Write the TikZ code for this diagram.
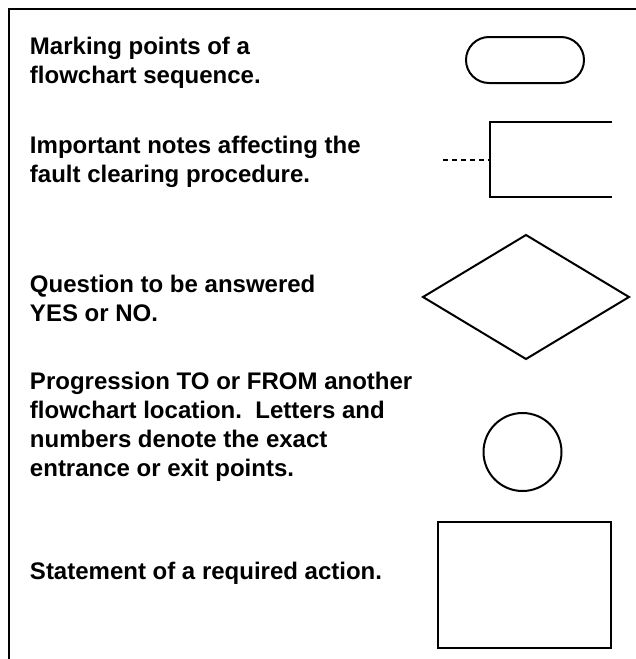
\documentclass[tikz,border=0pt]{standalone}
\usepackage{fontspec}
\setmainfont{Liberation Sans}
\begin{document}
\begin{tikzpicture}[x=1pt,y=-1pt,
  frame/.style={line width=2.2pt},
  shapeline/.style={line width=2pt},
  desc/.style={anchor=base west, inner sep=0pt, outer sep=0pt, align=left,
    font=\fontsize{24}{29}\selectfont\bfseries}]
\useasboundingbox (0,0) rectangle (636,659);
% frame (top and left edges)
\coordinate (fbl) at (9,660);
\coordinate (ftl) at (9,9);
\coordinate (ftr) at (637,9);
\draw[frame] (fbl) -- (ftl) -- (ftr);

% descriptions (anchored at baseline of last line)
\node[desc] (t1) at (30,83) {Marking points of a\\flowchart sequence.};
\node[desc] (t2) at (30,182.5) {Important notes affecting the\\fault clearing procedure.};
\node[desc] (t3) at (30,321.5) {Question to be answered\\YES or NO.};
\node[desc] (t4) at (30,476) {Progression TO or FROM another\\flowchart location.\ \ Letters and\\numbers denote the exact\\entrance or exit points.};
\node[desc] (t5) at (30,579) {Statement of a required action.};

% terminal
\node[shapeline, draw, rounded corners=23pt, minimum width=118pt, minimum height=46pt, inner sep=0pt, outer sep=0pt] (term) at (525,60) {};

% annotation bracket
\coordinate (a1) at (612,122);
\coordinate (a2) at (490,122);
\coordinate (a3) at (490,197);
\coordinate (a4) at (612,197);
\coordinate (am) at (490,160);
\coordinate (ad) at (443,160);
\draw[shapeline] (a1) -- (a2) -- (a3) -- (a4);
\draw[line width=2.5pt, dash pattern=on 4.6pt off 4.4pt] (ad) -- (am);

% decision
\coordinate (dl) at (423,297);
\coordinate (dt) at (526,235);
\coordinate (dr) at (629,297);
\coordinate (db) at (526,359);
\draw[shapeline, line join=miter] (dl) -- (dt) -- (dr) -- (db) -- cycle;

% connector
\node[shapeline, draw, circle, minimum size=78pt, inner sep=0pt, outer sep=0pt] (conn) at (522.5,452) {};

% process
\node[shapeline, draw, minimum width=173pt, minimum height=126pt, inner sep=0pt, outer sep=0pt] (proc) at (524.5,585) {};
\end{tikzpicture}
\end{document}
